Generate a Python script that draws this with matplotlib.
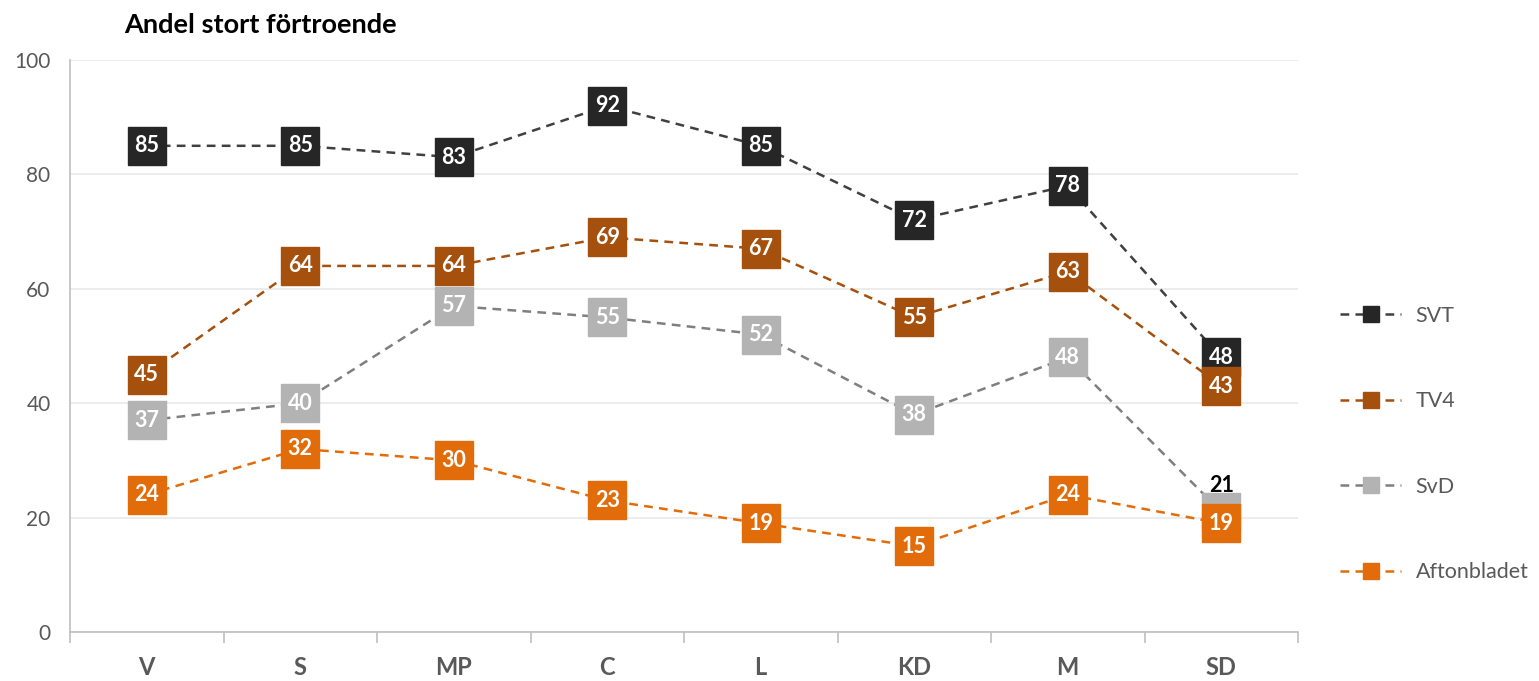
import numpy as np
import matplotlib.pyplot as plt
from matplotlib.lines import Line2D

plt.rcParams['font.family'] = ['Lato', 'DejaVu Sans']

# ---- 数据 ----
parties = ['V', 'S', 'MP', 'C', 'L', 'KD', 'M', 'SD']
svt = [85, 85, 83, 92, 85, 72, 78, 48]
tv4 = [45, 64, 64, 69, 67, 55, 63, 43]
svd = [37, 40, 57, 55, 52, 38, 48, 21]
aftonbladet = [24, 32, 30, 23, 19, 15, 24, 19]

series = [
    ('SVT', svt, '#404040', '#262626'),
    ('TV4', tv4, '#A5500C', '#A5500C'),
    ('SvD', svd, '#7F7F7F', '#B3B3B3'),
    ('Aftonbladet', aftonbladet, '#E36C0A', '#E36C0A'),
]

fig = plt.figure(figsize=(15.39, 6.81), dpi=100)
ax = fig.add_axes([70 / 1539, 1 - 632 / 681, 1228 / 1539, 572 / 681])

x = np.arange(len(parties))
handles = []
for z, (name, vals, lc, mc) in enumerate(series):
    ax.plot(x, vals, linestyle=(0, (3.5, 2.5)), color=lc, linewidth=1.8,
            zorder=3 + z)
    ax.plot(x, vals, linestyle='none', marker='s', markersize=28,
            markerfacecolor=mc, markeredgecolor=mc, zorder=3 + z)
    handles.append(Line2D([0], [0], linestyle=(0, (3.5, 2.5)), color=lc,
                          linewidth=1.8, marker='s', markersize=12,
                          markerfacecolor=mc, markeredgecolor=mc))

# 数据标签
for name, vals, lc, mc in series:
    for i, v in enumerate(vals):
        if name == 'SvD' and parties[i] == 'SD':
            ax.text(i, v + 4.6, str(v), ha='center', va='center',
                    fontsize=15.5, fontweight='bold', color='black', zorder=20)
        else:
            ax.text(i, v, str(v), ha='center', va='center', fontsize=15.5,
                    fontweight='bold', color='white', zorder=20)

ax.set_xlim(-0.5, len(parties) - 0.5)
ax.set_ylim(0, 100)
ax.set_yticks(np.arange(0, 101, 20))
ax.set_xticks(x)
ax.set_xticklabels(parties, fontsize=17, fontweight='bold', color='#595959')
ax.set_xticks(np.arange(-0.5, len(parties), 1), minor=True)
ax.tick_params(axis='x', which='major', length=0, pad=17)
ax.tick_params(axis='x', which='minor', length=8, color='#BFBFBF', width=1.2)
ax.tick_params(axis='y', length=0, labelsize=15, labelcolor='#595959', pad=14)

ax.grid(axis='y', color='#E9E9E9', linewidth=1.2, zorder=0)
ax.set_axisbelow(True)
for s in ['top', 'right']:
    ax.spines[s].set_visible(False)
ax.spines['left'].set_color('#BFBFBF')
ax.spines['bottom'].set_color('#BFBFBF')
ax.spines['left'].set_linewidth(1.2)
ax.spines['bottom'].set_linewidth(1.2)

fig.text(124 / 1539, 1 - 25 / 681, 'Andel stort förtroende', fontsize=19.5,
         fontweight='bold', color='black', ha='left', va='center')

leg = fig.legend(handles, [s[0] for s in series], loc='center left',
                 bbox_to_anchor=(1321 / 1539, 1 - 444 / 681), frameon=False,
                 fontsize=15.5, labelspacing=3.05, handlelength=2.8,
                 handletextpad=0.7)
for t in leg.get_texts():
    t.set_color('#595959')

fig.savefig('out.png', dpi=100)
